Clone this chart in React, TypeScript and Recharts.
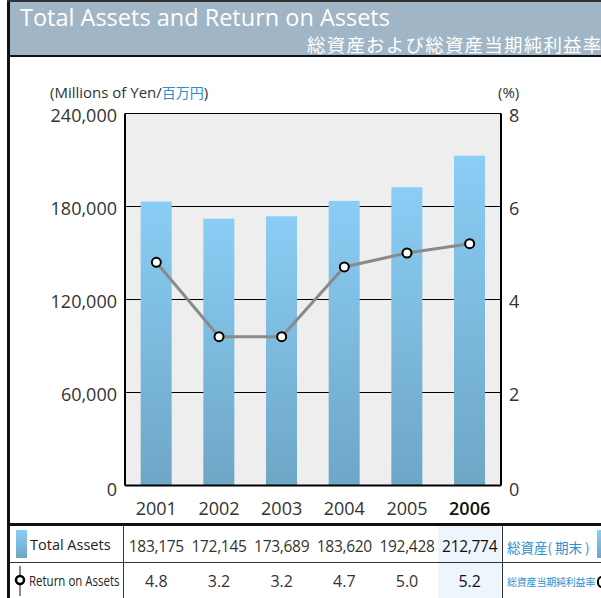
import { ComposedChart, Bar, Line, XAxis, YAxis, CartesianGrid } from 'recharts';

const years = ['2001', '2002', '2003', '2004', '2005', '2006'];
const totalAssets = [183175, 172145, 173689, 183620, 192428, 212774];
const roa = [4.8, 3.2, 3.2, 4.7, 5.0, 5.2];
const assetTicks = [0, 60000, 120000, 180000, 240000];
const roaTicks = [0, 2, 4, 6, 8];

const data = years.map((year, i) => ({ year, assets: totalAssets[i], roa: roa[i] }));

const FONT = '"Open Sans", "Noto Sans", sans-serif';
const JP = '"Noto Sans CJK JP", sans-serif';
const BLUE = '#2a8fd2';

const PLOT_LEFT = 125;
const PLOT_RIGHT = 501;
const PLOT_TOP = 113.5;
const PLOT_BOTTOM = 485.5;
const BAND = (PLOT_RIGHT - PLOT_LEFT) / years.length;

const fmt = (v: number) => v.toLocaleString('en-US');

const LeftTick = ({ x, y, payload }: any) => (
  <text x={x} y={y} textAnchor="end" dominantBaseline="central" fontSize={18} fill="#333" fontFamily={FONT} dy={payload.value === 0 ? 3 : 1}>
    {fmt(payload.value)}
  </text>
);

const RightTick = ({ x, y, payload }: any) => (
  <text x={x} y={y} textAnchor="start" dominantBaseline="central" fontSize={18} fill="#333" fontFamily={FONT} dy={payload.value === 0 ? 3 : 1}>
    {payload.value}
  </text>
);

const YearTick = ({ x, y, payload }: any) => {
  const last = payload.value === years[years.length - 1];
  return (
    <text x={x} y={y} textAnchor="middle" dominantBaseline="central" fontSize={18} dy={14}
      fill={last ? '#111' : '#333'} fontWeight={last ? 600 : 400} fontFamily={FONT}>
      {payload.value}
    </text>
  );
};

const Dot = ({ cx, cy }: any) => (
  <circle cx={cx} cy={cy} r={4.5} fill="#fff" stroke="#000" strokeWidth={2} />
);

const GradientBar = ({ x, y, width, height, index }: any) => (
  <g>
    <defs>
      <linearGradient id={`barFill${index}`} x1="0" y1="0" x2="0" y2="1">
        <stop offset="0%" stopColor="#8acdf5" />
        <stop offset="100%" stopColor="#6ea6c6" />
      </linearGradient>
    </defs>
    <rect x={x} y={y} width={width} height={height} fill={`url(#barFill${index})`} />
  </g>
);

export default function App() {
  return (
    <div style={{ position: 'absolute', left: 0, top: 0, width: 601, height: 598, overflow: 'hidden', background: '#fff', fontFamily: FONT }}>
      {/* frame */}
      <div style={{ position: 'absolute', left: 7, top: 0, width: 3, height: 598, background: '#111' }} />
      <div style={{ position: 'absolute', left: 7, top: 0, width: 594, height: 2, background: '#333' }} />
      <div style={{ position: 'absolute', left: 10, top: 2, width: 591, height: 53, background: '#a0b5c6' }} />
      <div style={{ position: 'absolute', left: 7, top: 55, width: 594, height: 2, background: '#111' }} />
      <div style={{ position: 'absolute', left: 20, top: 1, color: '#fff', fontSize: 23.5, whiteSpace: 'nowrap' }}>
        Total Assets and Return on Assets
      </div>
      <div style={{ position: 'absolute', left: 307, top: 31, color: '#fff', fontSize: 18.5, letterSpacing: 1.2, whiteSpace: 'nowrap', fontFamily: JP }}>
        総資産および総資産当期純利益率
      </div>

      {/* axis titles */}
      <div style={{ position: 'absolute', left: 50, top: 82, fontSize: 15, color: '#333', whiteSpace: 'nowrap' }}>
        (Millions of Yen/<span style={{ color: BLUE, fontFamily: JP, fontSize: 14 }}>百万円</span>)
      </div>
      <div style={{ position: 'absolute', left: 498, top: 82, fontSize: 15, color: '#333' }}>(%)</div>

      {/* plot background */}
      <div style={{ position: 'absolute', left: PLOT_LEFT, top: PLOT_TOP, width: PLOT_RIGHT - PLOT_LEFT, height: PLOT_BOTTOM - PLOT_TOP, background: '#eeeeee' }} />

      <div style={{ position: 'absolute', left: 0, top: 0 }}>
        <ComposedChart width={601} height={525} data={data} margin={{ top: PLOT_TOP, right: 0, bottom: 0, left: 0 }} barCategoryGap="25%">
          <CartesianGrid yAxisId="left" vertical={false} stroke="#000" strokeWidth={1} />
          <XAxis dataKey="year" height={525 - PLOT_BOTTOM} tickLine={false} axisLine={{ stroke: '#000', strokeWidth: 2 }} tick={<YearTick />} />
          <YAxis yAxisId="left" width={PLOT_LEFT} domain={[0, 240000]} ticks={assetTicks} tickLine={false}
            axisLine={{ stroke: '#000', strokeWidth: 2 }} tick={<LeftTick />} tickMargin={2} />
          <YAxis yAxisId="right" orientation="right" width={601 - PLOT_RIGHT} domain={[0, 8]} ticks={roaTicks} tickLine={false}
            axisLine={{ stroke: '#000', strokeWidth: 2 }} tick={<RightTick />} tickMargin={2} />
          <Bar yAxisId="left" dataKey="assets" fill="#7fbde3" shape={<GradientBar />} isAnimationActive={false} />
          <Line yAxisId="right" dataKey="roa" stroke="#8a8a8a" strokeWidth={3} dot={<Dot />} isAnimationActive={false} />
        </ComposedChart>
      </div>

      {/* table */}
      <div style={{ position: 'absolute', left: 7, top: 523, width: 594, height: 3, background: '#111' }} />
      <div style={{ position: 'absolute', left: PLOT_LEFT + BAND * 5, top: 526, width: BAND, height: 72, background: '#eef5fc' }} />
      <div style={{ position: 'absolute', left: 10, top: 562, width: 591, height: 1, background: '#333' }} />
      <div style={{ position: 'absolute', left: 123, top: 526, width: 1, height: 72, background: '#333' }} />
      <div style={{ position: 'absolute', left: PLOT_RIGHT + 1, top: 526, width: 1, height: 72, background: '#333' }} />

      <div style={{ position: 'absolute', left: 16, top: 530, width: 11, height: 28, background: 'linear-gradient(#8acdf5, #6ea6c6)' }} />
      <div style={{ position: 'absolute', left: 30, top: 535, fontSize: 14.5, color: '#222', whiteSpace: 'nowrap' }}>Total Assets</div>
      <svg style={{ position: 'absolute', left: 12, top: 565 }} width={16} height={32}>
        <line x1={8} y1={1} x2={8} y2={31} stroke="#888" strokeWidth={2} />
        <circle cx={8} cy={15} r={4} fill="#fff" stroke="#000" strokeWidth={2.5} />
      </svg>
      <div style={{ position: 'absolute', left: 29, top: 571, fontSize: 14, color: '#222', whiteSpace: 'nowrap', transform: 'scaleX(0.82)', transformOrigin: 'left' }}>
        Return on Assets
      </div>

      {years.map((y, i) => (
        <div key={y} style={{ position: 'absolute', left: PLOT_LEFT + BAND * i, width: BAND, top: 535, textAlign: 'center', fontSize: 15.5, color: i === 5 ? '#111' : '#333', letterSpacing: -0.3 }}>
          {fmt(totalAssets[i])}
        </div>
      ))}
      {years.map((y, i) => (
        <div key={y + 'r'} style={{ position: 'absolute', left: PLOT_LEFT + BAND * i, width: BAND, top: 570, textAlign: 'center', fontSize: 16, color: i === 5 ? '#111' : '#333' }}>
          {roa[i].toFixed(1)}
        </div>
      ))}

      <div style={{ position: 'absolute', left: 507, top: 537, fontSize: 13.5, color: BLUE, fontFamily: JP, whiteSpace: 'nowrap' }}>総資産( 期末 )</div>
      <div style={{ position: 'absolute', left: 597, top: 530, width: 11, height: 28, background: 'linear-gradient(#8acdf5, #6ea6c6)' }} />
      <div style={{ position: 'absolute', left: 507, top: 574, fontSize: 10, letterSpacing: -0.2, color: BLUE, fontFamily: JP, whiteSpace: 'nowrap' }}>総資産当期純利益率</div>
      <div style={{ position: 'absolute', left: 597, top: 576, width: 8, height: 8, borderRadius: 5, border: '2px solid #000', background: '#fff' }} />
    </div>
  );
}
